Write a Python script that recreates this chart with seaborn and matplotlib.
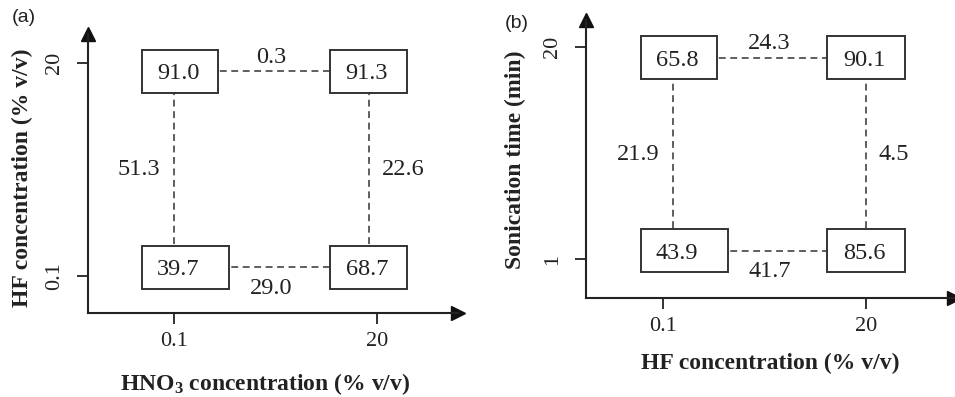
import numpy as np
import pandas as pd
import matplotlib
matplotlib.use("Agg")
import matplotlib.pyplot as plt
from matplotlib.patches import Rectangle
import seaborn as sns

# ---------------- data ----------------
# panel (a)
a_xticks = ["0.1", "20"]            # HNO3 concentration levels
a_yticks = ["0.1", "20"]            # HF concentration levels
# box values, rows = y level (low, high), cols = x level (low, high)
a_values = [["39.7", "68.7"],
            ["91.0", "91.3"]]
a_hdiff = ["29.0", "0.3"]           # differences along x at low / high y
a_vdiff = ["51.3", "22.6"]          # differences along y at low / high x
a_xlabel = r"$\mathbf{HNO_3}$ concentration (% v/v)"
a_ylabel = "HF concentration (% v/v)"

# panel (b)
b_xticks = ["0.1", "20"]            # HF concentration levels
b_yticks = ["1", "20"]              # sonication time levels
b_values = [["43.9", "85.6"],
            ["65.8", "90.1"]]
b_hdiff = ["41.7", "24.3"]
b_vdiff = ["21.9", "4.5"]
b_xlabel = "HF concentration (% v/v)"
b_ylabel = "Sonication time (min)"

# ---------------- style ----------------
sns.set_style("ticks")
plt.rcParams["font.family"] = ["Liberation Serif", "DejaVu Serif"]
plt.rcParams["mathtext.fontset"] = "custom"
plt.rcParams["mathtext.rm"] = "Liberation Serif:bold"
plt.rcParams["mathtext.bf"] = "Liberation Serif:bold"

INK = "#222222"
AXC = "#222222"
VAL_FS = 17.5
TICK_FS = 16
LAB_FS = 17

fig = plt.figure(figsize=(9.55, 3.97), dpi=100)

panels = [
    dict(rect=[88/955, 84/397, 370/955, 279/397],
         xlim=(-0.424, 1.399), ylim=(-0.174, 1.136),
         node_x=[0.0, 0.96], node_y=[0.04, 0.96],
         xticks=a_xticks, yticks=a_yticks, values=a_values,
         hdiff=a_hdiff, vdiff=a_vdiff, xlabel=a_xlabel, ylabel=a_ylabel,
         xlab_pos=(0.478, -0.254), ylab_pos=(-0.178, 0.484)),
    dict(rect=[586/955, 99/397, 368/955, 278/397],
         xlim=(-0.379, 1.433), ylim=(-0.184, 1.127),
         node_x=[0.05, 1.0], node_y=[0.04, 0.95],
         xticks=b_xticks, yticks=b_yticks, values=b_values,
         hdiff=b_hdiff, vdiff=b_vdiff, xlabel=b_xlabel, ylabel=b_ylabel,
         xlab_pos=(0.5, -0.234), ylab_pos=(-0.193, 0.496)),
]

for p in panels:
    ax = fig.add_axes(p["rect"])
    nx, ny = p["node_x"], p["node_y"]

    # dashed connectors between the four design points
    segs = []
    for j in range(2):   # horizontal connectors
        segs.append(dict(seg=f"h{j}", x=nx[0], y=ny[j]))
        segs.append(dict(seg=f"h{j}", x=nx[1], y=ny[j]))
    for i in range(2):   # vertical connectors
        segs.append(dict(seg=f"v{i}", x=nx[i], y=ny[0]))
        segs.append(dict(seg=f"v{i}", x=nx[i], y=ny[1]))
    df = pd.DataFrame(segs)
    sns.lineplot(data=df, x="x", y="y", units="seg", estimator=None, sort=False,
                 color="#333333", lw=1.1, linestyle=(0, (4.5, 3)), ax=ax, zorder=1)

    # boxes with response values
    for j in range(2):
        for i in range(2):
            if i == 0:
                x0, x1 = nx[i] - 0.16, nx[i] + (0.27 if j == 0 else 0.215)
            else:
                x0, x1 = nx[i] - 0.19, nx[i] + 0.19
            y0, y1 = ny[j] - 0.1, ny[j] + 0.1
            ax.add_patch(Rectangle((x0, y0), x1 - x0, y1 - y0, facecolor="white",
                                   edgecolor="#333333", lw=1.4, zorder=2))
            ax.text(nx[i] + (0.02 if i == 0 else -0.01), ny[j], p["values"][j][i],
                    ha="center", va="center_baseline", fontsize=VAL_FS, color=INK,
                    zorder=3)

    # differences
    xm = (nx[0] + nx[1]) / 2
    ax.text(xm, ny[1] + 0.066, p["hdiff"][1], ha="center", va="center",
            fontsize=VAL_FS, color=INK)
    ax.text(xm, ny[0] - 0.1, p["hdiff"][0], ha="center", va="center",
            fontsize=VAL_FS, color=INK)
    ym = (ny[0] + ny[1]) / 2
    ax.annotate(p["vdiff"][0], (nx[0], ym), xytext=(-10, 0), textcoords="offset points",
                ha="right", va="center", fontsize=VAL_FS, color=INK)
    ax.annotate(p["vdiff"][1], (nx[1], ym), xytext=(9, 0), textcoords="offset points",
                ha="left", va="center", fontsize=VAL_FS, color=INK)

    # axes
    ax.set_xlim(*p["xlim"])
    ax.set_ylim(*p["ylim"])
    ax.set_xticks([0, 1])
    ax.set_xticklabels(p["xticks"], fontsize=TICK_FS, color=INK)
    ax.set_yticks([0, 1])
    ax.set_yticklabels(p["yticks"], fontsize=TICK_FS, color=INK,
                       rotation=90, va="center", ha="right")
    ax.tick_params(axis="x", length=8, width=1.3, color=AXC, pad=6)
    ax.tick_params(axis="y", length=8, width=1.3, color=AXC, pad=9)
    sns.despine(ax=ax)
    for s in ["left", "bottom"]:
        ax.spines[s].set_linewidth(1.5)
        ax.spines[s].set_color(AXC)
    ax.plot(1, 0, ">", color="#111111", ms=10, transform=ax.transAxes, clip_on=False)
    ax.plot(0, 1, "^", color="#111111", ms=10, transform=ax.transAxes, clip_on=False)

    ax.set_xlabel(p["xlabel"], fontsize=LAB_FS, fontweight="bold", color=INK)
    ax.set_ylabel(p["ylabel"], fontsize=LAB_FS, fontweight="bold", color=INK)
    ax.xaxis.set_label_coords(*p["xlab_pos"])
    ax.yaxis.set_label_coords(*p["ylab_pos"])
    ax.xaxis.label.set_va("center")
    ax.yaxis.label.set_va("center")

fig.text(12/955, 1 - 18/397, "(a)", fontsize=14, family=["Liberation Sans", "DejaVu Sans"],
         ha="left", va="center", color=INK)
fig.text(505/955, 1 - 23/397, "(b)", fontsize=14, family=["Liberation Sans", "DejaVu Sans"],
         ha="left", va="center", color=INK)

fig.savefig("out.png", dpi=100)
